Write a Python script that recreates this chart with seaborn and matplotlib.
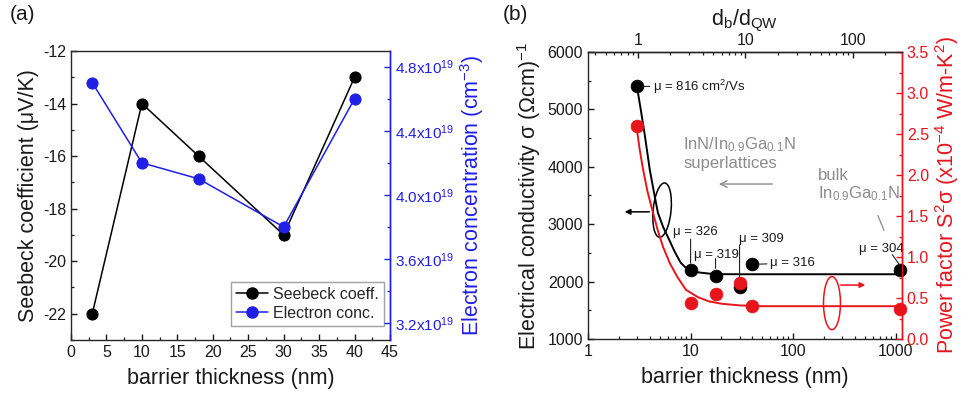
import matplotlib
matplotlib.use("Agg")
import matplotlib.pyplot as plt
import matplotlib.ticker as mticker
from matplotlib.patches import Ellipse
from matplotlib.lines import Line2D
import seaborn as sns
import numpy as np
import pandas as pd

# ---------------- data ----------------
# panel (a)
thick_a = [3, 10, 18, 30, 40]
seebeck = [-22, -14, -16, -19, -13]
e_conc = [4.7e19, 4.2e19, 4.1e19, 3.8e19, 4.6e19]

# panel (b)
thick_b = [3, 10, 17.5, 30, 40, 1100]
sigma = [5400, 2200, 2100, 1900, 2300, 2200]
pfactor = [2.6, 0.44, 0.55, 0.68, 0.40, 0.37]
mobility = ["μ = 816 cm$^2$/Vs", "μ = 326", "μ = 319", "μ = 309", "μ = 316", "μ = 304"]

# fitted guide curves
sig_fit_x = [3, 3.3, 3.6, 4.0, 4.4, 4.8, 5.4, 6.0, 7.0, 8.0, 9.0, 10, 12, 15, 20, 30, 1150]
sig_fit_y = [5400, 4950, 4520, 3950, 3550, 3200, 2950, 2780, 2520, 2330, 2240, 2190, 2160, 2140, 2130, 2128, 2128]
pf_fit_x = [3, 3.2, 3.45, 3.8, 4.3, 4.8, 5.4, 6.3, 7.4, 9, 11.8, 15, 20, 30, 50, 1150]
pf_fit_y = [2.55, 2.30, 2.06, 1.80, 1.54, 1.32, 1.12, 0.92, 0.76, 0.60, 0.51, 0.46, 0.43, 0.41, 0.40, 0.40]

top_ticks = [1, 10, 100]          # d_b/d_QW tick values
top_lim = (0.343, 286)            # d_b/d_QW axis range

# ---------------- style ----------------
sns.set_theme(style="ticks")
plt.rcParams["font.family"] = ["Liberation Sans", "DejaVu Sans"]
plt.rcParams["mathtext.fontset"] = "custom"
plt.rcParams["mathtext.rm"] = "Liberation Sans"
plt.rcParams["mathtext.it"] = "Liberation Sans"
plt.rcParams["mathtext.bf"] = "Liberation Sans:bold"
plt.rcParams["mathtext.default"] = "regular"
plt.rcParams["axes.unicode_minus"] = False
plt.rcParams["axes.linewidth"] = 1.0

BLUE = "#1f1fe6"
RED = "#e8141c"
GRAY = "#8c8c8c"
TXT = "#1a1a1a"
TICK_FS = 11.5
LAB_FS = 15.5

fig = plt.figure(figsize=(9.7, 4.0), dpi=100)

def style_ticks(ax, color=TXT, which_axis="both"):
    ax.tick_params(axis=which_axis, which="major", direction="in", length=4.5, width=1.0,
                   labelsize=TICK_FS, colors=color)
    ax.tick_params(axis=which_axis, which="minor", direction="in", length=2.5, width=0.9, colors=color)

# ================= panel (a) =================
axa = fig.add_axes([71/970, 60/400, 319/970, 289/400])
axa2 = axa.twinx()

dfa = pd.DataFrame({"t": thick_a, "S": seebeck, "n": e_conc})
sns.lineplot(data=dfa, x="t", y="S", ax=axa, color="black", marker="o", markersize=8,
             markeredgecolor="black", linewidth=1.1, sort=False, estimator=None)
sns.lineplot(data=dfa, x="t", y="n", ax=axa2, color=BLUE, marker="o", markersize=8,
             markeredgecolor=BLUE, linewidth=1.1, sort=False, estimator=None)

axa.set_xlim(0, 45)
axa.set_ylim(-23, -12)
axa2.set_ylim(3.094e19, 4.898e19)
axa.xaxis.set_major_locator(mticker.MultipleLocator(5))
axa.xaxis.set_minor_locator(mticker.MultipleLocator(2.5))
axa.yaxis.set_major_locator(mticker.MultipleLocator(2))
axa.yaxis.set_minor_locator(mticker.MultipleLocator(1))
axa2.yaxis.set_major_locator(mticker.MultipleLocator(0.4e19))
axa2.yaxis.set_minor_locator(mticker.MultipleLocator(0.2e19))
axa2.yaxis.set_major_formatter(mticker.FuncFormatter(lambda v, p: f"{v/1e19:.1f}x10$^{{19}}$"))

style_ticks(axa)
style_ticks(axa2, color=BLUE, which_axis="y")
axa2.tick_params(axis="y", labelsize=11)
axa2.spines["right"].set_color(BLUE)
for s in ["left", "top", "bottom"]:
    axa2.spines[s].set_visible(False)

axa.set_xlabel("barrier thickness (nm)", fontsize=LAB_FS, labelpad=6, color=TXT)
axa.set_ylabel("Seebeck coefficient (μV/K)", fontsize=LAB_FS, labelpad=3, color=TXT)
axa2.set_ylabel("Electron concentration (cm$^{-3}$)", fontsize=LAB_FS, color=BLUE, labelpad=3)

h = [Line2D([], [], color="black", marker="o", markersize=8, linewidth=1.1),
     Line2D([], [], color=BLUE, marker="o", markersize=8, linewidth=1.1)]
leg = axa.legend(h, ["Seebeck coeff.", "Electron conc."], loc="lower right",
                 bbox_to_anchor=(0.98, 0.05), fontsize=11.5, frameon=True, fancybox=False,
                 edgecolor="#888888", handlelength=2.0, handletextpad=0.3, borderpad=0.3,
                 labelspacing=0.25, borderaxespad=0)
leg.get_frame().set_linewidth(1.0)
fig.text(10/970, 1 - 5/400, "(a)", fontsize=15, ha="left", va="top", color=TXT)

# ================= panel (b) =================
axb = fig.add_axes([588/970, 61/400, 314/970, 287/400])
axb2 = axb.twinx()

dfb = pd.DataFrame({"t": thick_b, "sigma": sigma, "pf": pfactor})
dsf = pd.DataFrame({"x": sig_fit_x, "y": sig_fit_y})
dpf = pd.DataFrame({"x": pf_fit_x, "y": pf_fit_y})

sns.lineplot(data=dsf, x="x", y="y", ax=axb, color="black", linewidth=1.4, sort=False, estimator=None)
sns.scatterplot(data=dfb, x="t", y="sigma", ax=axb, color="black", s=85, edgecolor="black",
                linewidth=0.5, zorder=3, clip_on=False)
sns.lineplot(data=dpf, x="x", y="y", ax=axb2, color=RED, linewidth=1.4, sort=False, estimator=None)
sns.scatterplot(data=dfb, x="t", y="pf", ax=axb2, color=RED, s=85, edgecolor=RED,
                linewidth=0.5, zorder=3, clip_on=False)

axb.set_xscale("log")
axb.set_xlim(1, 1150)
axb.set_ylim(1000, 6000)
axb2.set_ylim(0, 3.5)
axb.xaxis.set_major_locator(mticker.FixedLocator([1, 10, 100, 1000]))
axb.xaxis.set_major_formatter(mticker.FixedFormatter(["1", "10", "100", "1000"]))
axb.xaxis.set_minor_locator(mticker.LogLocator(base=10, subs=np.arange(2, 10)))
axb.xaxis.set_minor_formatter(mticker.NullFormatter())
axb.yaxis.set_major_locator(mticker.MultipleLocator(1000))
axb.yaxis.set_minor_locator(mticker.MultipleLocator(500))
axb2.yaxis.set_major_locator(mticker.MultipleLocator(0.5))
axb2.yaxis.set_minor_locator(mticker.MultipleLocator(0.25))
axb2.yaxis.set_major_formatter(mticker.FormatStrFormatter("%.1f"))

style_ticks(axb)
axb.tick_params(axis="x", which="both", top=False)
style_ticks(axb2, color=RED, which_axis="y")
axb2.spines["right"].set_color(RED)
for s in ["left", "top", "bottom"]:
    axb2.spines[s].set_visible(False)

# top axis: d_b / d_QW
axt = axb.twiny()
axt.set_xscale("log")
axt.set_xlim(*top_lim)
axt.xaxis.set_major_locator(mticker.FixedLocator(top_ticks))
axt.xaxis.set_major_formatter(mticker.FixedFormatter([str(t) for t in top_ticks]))
axt.xaxis.set_minor_locator(mticker.LogLocator(base=10, subs=np.arange(2, 10)))
axt.xaxis.set_minor_formatter(mticker.NullFormatter())
axt.tick_params(which="major", direction="in", length=4.5, width=1.0, labelsize=TICK_FS, pad=3, colors=TXT)
axt.tick_params(which="minor", direction="in", length=2.5, width=0.9, colors=TXT)
for s in ["left", "right", "bottom"]:
    axt.spines[s].set_visible(False)
axt.set_xlabel("d$_b$/d$_{QW}$", fontsize=LAB_FS, labelpad=5, color=TXT)

axb.set_xlabel("barrier thickness (nm)", fontsize=LAB_FS, labelpad=6, color=TXT)
axb.set_ylabel("Electrical conductivity σ (Ωcm)$^{-1}$", fontsize=LAB_FS, labelpad=3, color=TXT)
axb2.set_ylabel("Power factor S$^2$σ (x10$^{-4}$ W/m-K$^2$)", fontsize=LAB_FS, color=RED, labelpad=3)

# mobility annotations
ann_fs = 9.5
lk = dict(arrowstyle="-", color="#222222", lw=0.8, shrinkA=0, shrinkB=4)
axb.annotate(mobility[0], xy=(thick_b[0], sigma[0]), xytext=(4.3, sigma[0]), fontsize=ann_fs,
             va="center", ha="left", arrowprops=lk, color=TXT)
axb.annotate(mobility[1], xy=(thick_b[1], 2330), xytext=(6.75, 2864), fontsize=ann_fs,
             va="center", ha="left", color=TXT)
axb.annotate("", xy=(thick_b[1], 2320), xytext=(thick_b[1], 2740), arrowprops=dict(lk, shrinkB=0))
axb.annotate(mobility[2], xy=(thick_b[2], 2250), xytext=(10.8, 2463), fontsize=ann_fs,
             va="center", ha="left", color=TXT)
axb.annotate("", xy=(thick_b[2], 2230), xytext=(thick_b[2], 2400), arrowprops=dict(lk, shrinkB=0))
axb.annotate(mobility[3], xy=(thick_b[3], 2100), xytext=(29.7, 2742), fontsize=ann_fs,
             va="center", ha="left", color=TXT)
axb.annotate("", xy=(thick_b[3], 2080), xytext=(thick_b[3], 2640), arrowprops=dict(lk, shrinkB=0))
axb.annotate(mobility[4], xy=(thick_b[4], sigma[4]), xytext=(59.7, 2324), fontsize=ann_fs,
             va="center", ha="left", arrowprops=lk, color=TXT)
axb.annotate(mobility[5], xy=(thick_b[5], 2260), xytext=(441, 2568), fontsize=ann_fs,
             va="center", ha="left", color=TXT)
axb.annotate("", xy=(1090, 2290), xytext=(925, 2470), arrowprops=dict(lk, shrinkB=0))

# gray labels
axb.text(0.303, 0.676, "InN/In$_{0.9}$Ga$_{0.1}$N", transform=axb.transAxes, color=GRAY,
         fontsize=12, ha="left", va="center")
axb.text(0.303, 0.613, "superlattices", transform=axb.transAxes, color=GRAY,
         fontsize=12, ha="left", va="center")
axb.annotate("", xy=(0.408, 0.540), xytext=(0.596, 0.540), xycoords="axes fraction",
             arrowprops=dict(arrowstyle="->", color=GRAY, lw=1.0))
axb.text(0.732, 0.571, "bulk", transform=axb.transAxes, color=GRAY, fontsize=12,
         ha="left", va="center")
axb.text(0.732, 0.505, "In$_{0.9}$Ga$_{0.1}$N", transform=axb.transAxes, color=GRAY,
         fontsize=12, ha="left", va="center")
axb.annotate("", xy=(0.946, 0.369), xytext=(0.920, 0.439), xycoords="axes fraction",
             arrowprops=dict(arrowstyle="-", color=GRAY, lw=0.9))

# ellipses + arrows
axb2.add_patch(Ellipse((0.236, 0.449), 0.057, 0.19, angle=-5, transform=axb.transAxes,
                       fill=False, edgecolor="black", lw=1.1))
axb2.annotate("", xy=(0.108, 0.443), xytext=(0.204, 0.443), xycoords=axb.transAxes,
              arrowprops=dict(arrowstyle="-|>", color="black", lw=1.1, mutation_scale=8))
axb2.add_patch(Ellipse((0.777, 0.125), 0.054, 0.185, angle=0, transform=axb.transAxes,
                       fill=False, edgecolor=RED, lw=1.1))
axb2.annotate("", xy=(0.892, 0.188), xytext=(0.796, 0.188), xycoords=axb.transAxes,
              arrowprops=dict(arrowstyle="-|>", color=RED, lw=1.1, mutation_scale=8))

fig.text(503/970, 1 - 5/400, "(b)", fontsize=15, ha="left", va="top", color=TXT)

fig.savefig("out.png", dpi=100)
